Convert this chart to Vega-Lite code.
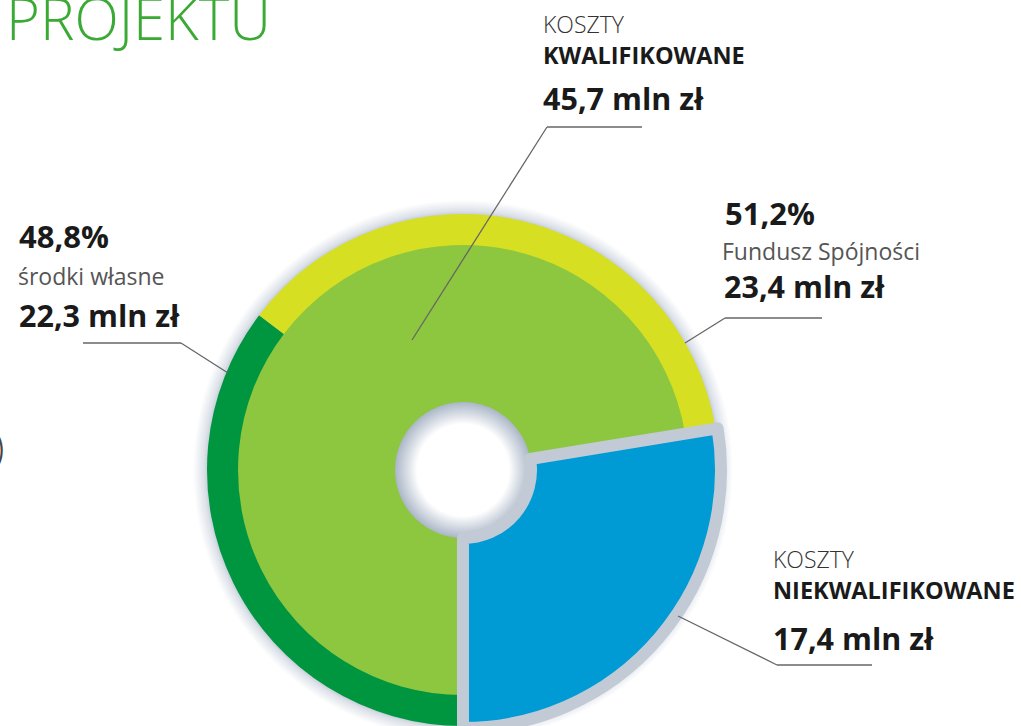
{
  "$schema": "https://vega.github.io/schema/vega-lite/v6.json",
  "width": 1021,
  "height": 726,
  "autosize": "none",
  "padding": 0,
  "background": "white",
  "config": {"view": {"stroke": null}, "font": "Open Sans"},
  "datasets": {
    "inner": [
      {"seg": "koszty kwalifikowane", "v": 45.7, "o": 1},
      {"seg": "koszty niekwalifikowane", "v": 17.4, "o": 2}
    ],
    "outer": [
      {"seg": "środki własne", "v": 22.3, "o": 1},
      {"seg": "Fundusz Spójności", "v": 23.4, "o": 2},
      {"seg": "poza pierścieniem", "v": 17.4, "o": 3}
    ],
    "leaders": [
      {"id": "kw1", "x": 84, "y": 343, "x2": 179, "y2": 343},
      {"id": "kw2", "x": 84, "y": 343, "x2": -51, "y2": 130},
      {"id": "fs1", "x": 262, "y": 152, "x2": 359, "y2": 152},
      {"id": "fs2", "x": 262, "y": 152, "x2": 222, "y2": 127},
      {"id": "sw1", "x": -380, "y": 127, "x2": -282, "y2": 127},
      {"id": "sw2", "x": -282, "y": 127, "x2": -235, "y2": 97},
      {"id": "nk1", "x": 215, "y": -146, "x2": 314, "y2": -195},
      {"id": "nk2", "x": 314, "y": -195, "x2": 409, "y2": -195}
    ],
    "labels": [
      {"kind": "tytul", "t": "PROJEKTU", "x": -457, "y": 430},
      {"kind": "fragment", "t": ")", "x": -470, "y": 8},
      {"kind": "koszty", "t": "KOSZTY", "x": 80, "y": 437},
      {"kind": "naglowek", "t": "KWALIFIKOWANE", "x": 80, "y": 406},
      {"kind": "kwota", "t": "45,7 mln zł", "x": 80, "y": 360},
      {"kind": "procent", "t": "51,2%", "x": 262, "y": 245},
      {"kind": "opis", "t": "Fundusz Spójności", "x": 259, "y": 210},
      {"kind": "kwota", "t": "23,4 mln zł", "x": 261, "y": 172},
      {"kind": "procent", "t": "48,8%", "x": -444, "y": 222},
      {"kind": "opis", "t": "środki własne", "x": -445, "y": 185},
      {"kind": "kwota", "t": "22,3 mln zł", "x": -444, "y": 143},
      {"kind": "koszty", "t": "KOSZTY", "x": 310, "y": -98},
      {"kind": "naglowek", "t": "NIEKWALIFIKOWANE", "x": 310, "y": -129},
      {"kind": "kwota", "t": "17,4 mln zł", "x": 310, "y": -180}
    ]
  },
  "layer": [
    {
      "data": {"values": [{"ring": "tło"}]},
      "mark": {
        "type": "arc", "theta": 0, "theta2": 6.2832, "innerRadius": 0, "outerRadius": 270,
        "fill": {
          "gradient": "radial", "x1": 0.5, "y1": 0.5, "r1": 0, "x2": 0.5, "y2": 0.5, "r2": 0.5,
          "stops": [
            {"offset": 0, "color": "#ffffff"},
            {"offset": 0.17, "color": "#ffffff"},
            {"offset": 0.252, "color": "#aab6c7"},
            {"offset": 0.27, "color": "#b7c1cf"},
            {"offset": 0.94, "color": "#bcc5d2"},
            {"offset": 0.96, "color": "#dde2e9"},
            {"offset": 1, "color": "#ffffff"}
          ]
        }
      },
      "encoding": {
        "x": {"datum": 0, "type": "quantitative", "scale": {"domain": [-463, 558], "nice": false, "zero": false}, "axis": null},
        "y": {"datum": 0, "type": "quantitative", "scale": {"domain": [-256, 470], "nice": false, "zero": false}, "axis": null}
      }
    },
    {
      "data": {"name": "inner"},
      "mark": {"type": "arc", "innerRadius": 68, "outerRadius": 228},
      "encoding": {
        "x": {"datum": 0, "type": "quantitative"},
        "y": {"datum": 0, "type": "quantitative"},
        "theta": {"field": "v", "type": "quantitative", "stack": true, "scale": {"nice": false, "range": [3.14159265, 9.42477796]}},
        "order": {"field": "o", "type": "quantitative", "sort": "ascending"},
        "color": {"field": "seg", "type": "nominal", "legend": null,
          "scale": {"domain": ["koszty kwalifikowane", "koszty niekwalifikowane", "środki własne", "Fundusz Spójności", "poza pierścieniem"],
                    "range": ["#8dc63f", "#009ad5", "#009640", "#d6df22", "transparent"]}}
      }
    },
    {
      "data": {"name": "outer"},
      "mark": {"type": "arc", "innerRadius": 225, "outerRadius": 256},
      "encoding": {
        "x": {"datum": 0, "type": "quantitative"},
        "y": {"datum": 0, "type": "quantitative"},
        "theta": {"field": "v", "type": "quantitative", "stack": true},
        "order": {"field": "o", "type": "quantitative", "sort": "ascending"},
        "color": {"field": "seg", "type": "nominal", "legend": null}
      }
    },
    {
      "data": {"name": "inner"},
      "mark": {"type": "arc", "innerRadius": 68, "outerRadius": 258, "strokeWidth": 12, "strokeJoin": "round"},
      "encoding": {
        "x": {"datum": 0, "type": "quantitative"},
        "y": {"datum": 0, "type": "quantitative"},
        "theta": {"field": "v", "type": "quantitative", "stack": true},
        "order": {"field": "o", "type": "quantitative", "sort": "ascending"},
        "fill": {"condition": {"test": "datum.seg === 'koszty niekwalifikowane'", "value": "#009ad5"}, "value": "transparent"},
        "stroke": {"condition": {"test": "datum.seg === 'koszty niekwalifikowane'", "value": "#c2cad6"}, "value": "transparent"}
      }
    },
    {
      "data": {"name": "leaders"},
      "mark": {"type": "rule", "color": "#666666", "strokeWidth": 1.3},
      "encoding": {
        "x": {"field": "x", "type": "quantitative"},
        "y": {"field": "y", "type": "quantitative"},
        "x2": {"field": "x2"},
        "y2": {"field": "y2"}
      }
    },
    {
      "data": {"name": "labels"},
      "transform": [{"filter": "datum.kind === 'tytul'"}],
      "mark": {"type": "text", "align": "left", "baseline": "alphabetic", "fontSize": 58, "fontWeight": 300, "color": "#3aaa35"},
      "encoding": {"x": {"field": "x", "type": "quantitative"}, "y": {"field": "y", "type": "quantitative"}, "text": {"field": "t"}}
    },
    {
      "data": {"name": "labels"},
      "transform": [{"filter": "datum.kind === 'fragment'"}],
      "mark": {"type": "text", "align": "left", "baseline": "alphabetic", "fontSize": 42, "fontWeight": 300, "color": "#444444"},
      "encoding": {"x": {"field": "x", "type": "quantitative"}, "y": {"field": "y", "type": "quantitative"}, "text": {"field": "t"}}
    },
    {
      "data": {"name": "labels"},
      "transform": [{"filter": "datum.kind === 'koszty'"}],
      "mark": {"type": "text", "align": "left", "baseline": "alphabetic", "fontSize": 23, "fontWeight": 300, "color": "#333333"},
      "encoding": {"x": {"field": "x", "type": "quantitative"}, "y": {"field": "y", "type": "quantitative"}, "text": {"field": "t"}}
    },
    {
      "data": {"name": "labels"},
      "transform": [{"filter": "datum.kind === 'naglowek'"}],
      "mark": {"type": "text", "align": "left", "baseline": "alphabetic", "fontSize": 23.5, "fontWeight": "bold", "color": "#1a1a1a"},
      "encoding": {"x": {"field": "x", "type": "quantitative"}, "y": {"field": "y", "type": "quantitative"}, "text": {"field": "t"}}
    },
    {
      "data": {"name": "labels"},
      "transform": [{"filter": "datum.kind === 'kwota'"}],
      "mark": {"type": "text", "align": "left", "baseline": "alphabetic", "fontSize": 30.5, "fontWeight": "bold", "color": "#1a1a1a"},
      "encoding": {"x": {"field": "x", "type": "quantitative"}, "y": {"field": "y", "type": "quantitative"}, "text": {"field": "t"}}
    },
    {
      "data": {"name": "labels"},
      "transform": [{"filter": "datum.kind === 'procent'"}],
      "mark": {"type": "text", "align": "left", "baseline": "alphabetic", "fontSize": 31, "fontWeight": "bold", "color": "#1a1a1a"},
      "encoding": {"x": {"field": "x", "type": "quantitative"}, "y": {"field": "y", "type": "quantitative"}, "text": {"field": "t"}}
    },
    {
      "data": {"name": "labels"},
      "transform": [{"filter": "datum.kind === 'opis'"}],
      "mark": {"type": "text", "align": "left", "baseline": "alphabetic", "fontSize": 23, "color": "#555555"},
      "encoding": {"x": {"field": "x", "type": "quantitative"}, "y": {"field": "y", "type": "quantitative"}, "text": {"field": "t"}}
    }
  ]
}
